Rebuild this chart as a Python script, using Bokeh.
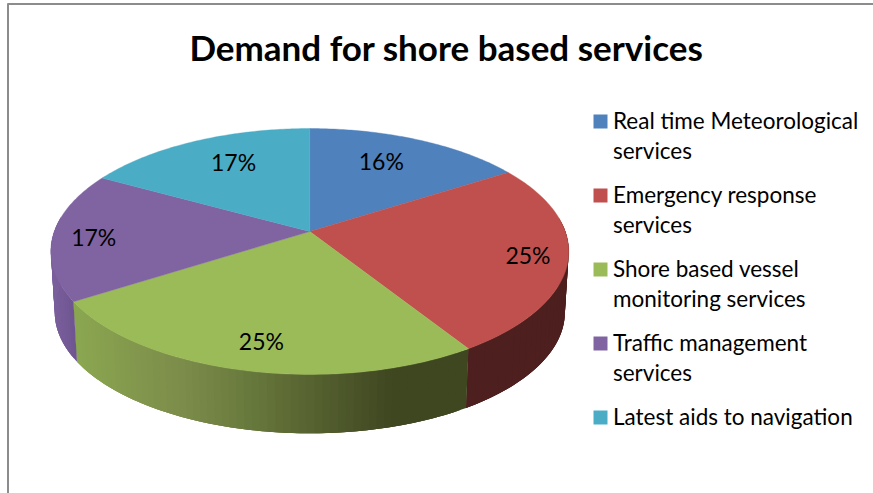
import math
from bokeh.plotting import figure
from bokeh.embed import file_html
from bokeh.resources import INLINE
from bokeh.models import Range1d, Label

TITLE = "Demand for shore based services"
categories = ["Real time Meteorological services", "Emergency response services",
              "Shore based vessel monitoring services", "Traffic management services",
              "Latest aids to navigation"]
legend_lines = [["Real time Meteorological", "services"], ["Emergency response", "services"],
                ["Shore based vessel", "monitoring services"], ["Traffic management", "services"],
                ["Latest aids to navigation"]]
values = [16, 25, 25, 17, 17]
top_colors = ["#4f81bd", "#c0504d", "#9bbb59", "#8064a2", "#4bacc6"]

# layout (pixels of the 873x493 picture)
W, H = 873, 493
CX, CY = 309.3, 231      # apex of the pie
B, A, K = 255.5, 119.7, 0.1626   # perspective of the disc
DEPTH, SHRINK = 61, 0.985
FONT = "Lato"
label_frac = [.71, .85, .82, .84, .71]
label_nudge = [-3, 1, -1, -2, 3]
legend_y = [120, 194, 268, 342, 416]
side_stops = {
    1: [(0, "#4d1f1e"), (1, "#4d1f1e")],
    2: [(78, "#8aa650"), (180, "#7c8c4a"), (240, "#6a7c3e"), (300, "#5a6632"), (390, "#3f4721"), (470, "#3f4721")],
    3: [(51, "#7a5f9c"), (85, "#68508a")],
}

p = figure(width=W, height=H, output_backend="svg", toolbar_location=None,
           x_range=Range1d(0, W), y_range=Range1d(H, 0), min_border=0,
           outline_line_color=None, background_fill_color="white")
p.xaxis.visible = False
p.yaxis.visible = False
p.grid.visible = False

def proj(theta, f=1.0, bottom=False):
    s, c = math.sin(theta) * f, math.cos(theta) * f
    d = 1 + K * c
    x, y = B * s / d, -A * c / d
    if bottom:
        return CX + x * SHRINK, CY + y * SHRINK + DEPTH
    return CX + x, CY + y

def hex2(c):
    return [int(c[i:i + 2], 16) for i in (1, 3, 5)]

def color_at(stops, x):
    if x <= stops[0][0]:
        return stops[0][1]
    for (x0, c0), (x1, c1) in zip(stops, stops[1:]):
        if x <= x1:
            t = (x - x0) / (x1 - x0)
            a, b = hex2(c0), hex2(c1)
            return "#%02x%02x%02x" % tuple(round(a[i] + (b[i] - a[i]) * t) for i in range(3))
    return stops[-1][1]

total = sum(values)
edges = [0.0]
for v in values:
    edges.append(edges[-1] + v / total * 2 * math.pi)

# side wall, drawn as quads along the front rim; each reaches over the next seam
for i in (1, 2, 3):
    t0, t1 = edges[i], edges[i + 1]
    if i == 1:
        t0 = max(t0, math.pi / 2 - 0.12)
    if i == 3:
        t1 = min(t1, 3 * math.pi / 2 + 0.12)
    n = 60 if i == 2 else 30
    ts = [t0 + (t1 - t0) * j / n for j in range(n + 1)]
    for j, (a, b) in enumerate(zip(ts, ts[1:])):
        b2 = ts[min(j + 3, n)]
        sub = [a + (b2 - a) * q / 4 for q in range(5)]
        tops = [proj(t) for t in sub]
        bots = [proj(t, bottom=True) for t in sub]
        col = color_at(side_stops[i], (proj(a)[0] + proj(b)[0]) / 2)
        p.patch([q[0] for q in tops] + [q[0] for q in reversed(bots)],
                [q[1] for q in tops] + [q[1] for q in reversed(bots)],
                fill_color=col, line_color=None)

# top of the disc
for i, v in enumerate(values):
    n = 80
    ts = [edges[i] + (edges[i + 1] - edges[i]) * j / n for j in range(n + 1)]
    pts = [proj(t) for t in ts]
    p.patch([CX] + [q[0] for q in pts], [CY] + [q[1] for q in pts],
            fill_color=top_colors[i], line_color=top_colors[i], line_width=0.4)

# percentage labels
for i, v in enumerate(values):
    mid = (edges[i] + edges[i + 1]) / 2 + math.radians(label_nudge[i])
    x, y = proj(mid, label_frac[i])
    p.add_layout(Label(x=x, y=y - 1, text=f"{v}%", text_font=FONT, text_font_size="23px", text_color="black",
                       text_align="center", text_baseline="middle"))

# title
p.add_layout(Label(x=446, y=46, text=TITLE, text_font=FONT, text_font_style="bold", text_font_size="35px",
                   text_color="black", text_align="center", text_baseline="middle"))

# legend
for i, lines in enumerate(legend_lines):
    p.quad(left=[593], right=[607], top=[legend_y[i] + 1 - 7], bottom=[legend_y[i] + 1 + 7],
           fill_color=top_colors[i], line_color=None)
    for j, line in enumerate(lines):
        p.add_layout(Label(x=612.5, y=legend_y[i] + j * 30, text=line, text_font=FONT, text_font_size="22.5px",
                           text_color="black", text_align="left", text_baseline="middle"))

# chart frame (only the top and left edges are in view)
p.line([7.5, 7.5], [3, H], line_color="#8c8c8c", line_width=2)
p.line([7, W], [3.5, 3.5], line_color="#8c8c8c", line_width=2)

open("out.html", "w").write(file_html(p, INLINE))
